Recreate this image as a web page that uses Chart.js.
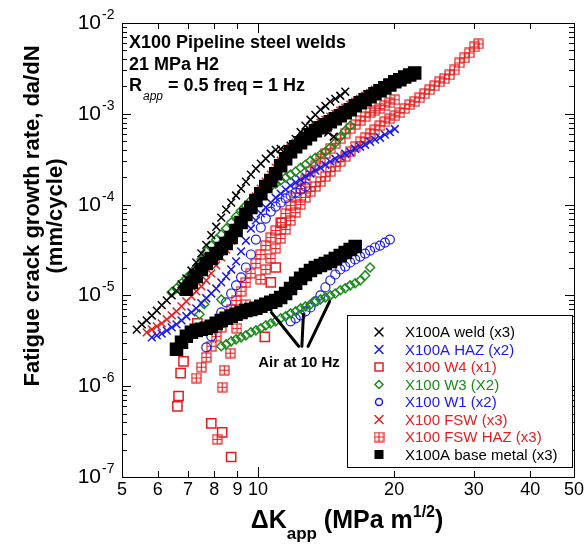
<!DOCTYPE html>
<html>
<head>
<meta charset="utf-8">
<script src="https://cdn.jsdelivr.net/npm/chart.js@4.4.0/dist/chart.umd.min.js"></script>
<style>
  html, body { margin: 0; padding: 0; background: #fff; }
  #wrap { width: 587px; height: 556px; position: relative; }
</style>
</head>
<body>
<div id="wrap"><canvas id="chart"></canvas></div>
<script>
// dK (MPa m^1/2) and da/dN (mm/cycle)

// X100A weld (x3), H2
const weldDK = [5.39,5.53,5.67,5.82,5.97,6.12,6.28,6.44,6.60,6.77,6.94,7.12,7.30,7.49,7.68,7.88,8.08,8.29,8.50,8.72,8.94,9.17,9.40,9.64,9.89,10.14,10.40,10.67,10.94,11.22,11.51,11.80,12.11,12.42,12.73,13.06,13.39,13.74,14.09,14.45,14.82,15.20,15.59,14.3,14.7];
const weldRate = [4.2e-6,4.8e-6,5.3e-6,6.0e-6,6.8e-6,7.8e-6,8.8e-6,1.0e-5,1.13e-5,1.32e-5,1.54e-5,1.88e-5,2.31e-5,2.9e-5,3.6e-5,4.6e-5,5.7e-5,7.2e-5,8.8e-5,1.05e-4,1.26e-4,1.5e-4,1.79e-4,2.14e-4,2.49e-4,2.82e-4,3.2e-4,3.63e-4,4.0e-4,4.1e-4,3.9e-4,4.45e-4,5.3e-4,6.3e-4,7.4e-4,8.6e-4,9.75e-4,1.11e-3,1.22e-3,1.36e-3,1.46e-3,1.58e-3,1.75e-3,6.2e-4,5.6e-4];

// X100A HAZ (x2)
const hazDK = [5.82,5.97,6.12,6.28,6.44,6.60,6.77,6.94,7.12,7.30,7.49,7.68,7.88,8.08,8.29,8.50,8.72,8.94,9.17,9.40,9.64,9.89,10.14,10.40,10.67,10.94,11.22,11.51,11.80,12.11,12.42,12.73,13.06,13.39,13.74,14.09,14.45,14.82,15.20,15.59,15.99,16.40,16.82,17.25,17.69,18.14,18.61,19.08,19.57,20.07];
const hazRate = [3.45e-6,3.63e-6,3.8e-6,4.1e-6,4.45e-6,4.8e-6,5.3e-6,5.9e-6,6.5e-6,7.2e-6,8.2e-6,9.3e-6,1.05e-5,1.19e-5,1.39e-5,1.62e-5,1.93e-5,2.37e-5,3.05e-5,4.0e-5,5.45e-5,6.7e-5,8.0e-5,9.3e-5,1.05e-4,1.19e-4,1.32e-4,1.46e-4,1.62e-4,1.75e-4,1.88e-4,2.03e-4,2.19e-4,2.37e-4,2.55e-4,2.75e-4,2.97e-4,3.2e-4,3.37e-4,3.63e-4,3.8e-4,4.12e-4,4.34e-4,4.56e-4,4.92e-4,5.2e-4,5.45e-4,5.9e-4,6.3e-4,6.8e-4];

// X100 W4 (x1)
const w4DK = [6.63,6.67,6.74,6.84,7.34,7.88,8.33,8.72,10.35,10.67,10.94,11.28];
const w4Rate = [6.0e-7,7.8e-7,1.39e-6,1.88e-6,4.92e-6,3.9e-7,3.1e-7,1.66e-7,3.5e-6,1.39e-5,2.03e-5,6.3e-5];

// X100 W3 (x2), H2 then air
const w3DK = [6.44,6.60,6.77,6.94,7.12,7.30,7.49,7.68,7.88,8.08,8.29,8.50,8.72,8.94,9.17,9.40,9.64,9.89,10.14,10.40,10.67,10.94,11.22,11.51,11.80,12.11,12.42,12.73,13.06,13.39,13.74,14.09,14.45,14.82,15.20,15.59,15.99,7.42,7.60,8.29];
const w3Rate = [1.08e-5,1.20e-5,1.36e-5,1.54e-5,1.75e-5,2.03e-5,2.49e-5,3.04e-5,3.54e-5,4.12e-5,4.68e-5,5.45e-5,6.34e-5,7.38e-5,8.59e-5,9.75e-5,1.11e-4,1.23e-4,1.36e-4,1.46e-4,1.58e-4,1.70e-4,1.84e-4,1.98e-4,2.14e-4,2.31e-4,2.55e-4,2.75e-4,3.04e-4,3.28e-4,3.54e-4,3.82e-4,4.23e-4,4.80e-4,5.59e-4,6.50e-4,7.38e-4,6.2e-6,8.0e-6,9.0e-6];
const w3AirDK = [8.29,8.50,8.72,8.94,9.17,9.40,9.64,9.89,10.14,10.40,10.67,10.94,11.22,11.51,11.80,12.11,12.42,12.73,13.06,13.39,13.74,14.09,14.45,14.82,15.20,15.59,15.99,16.40,16.82,17.25,17.69];
const w3AirRate = [2.75e-6,2.89e-6,3.12e-6,3.28e-6,3.45e-6,3.63e-6,3.92e-6,4.12e-6,4.34e-6,4.68e-6,4.92e-6,5.18e-6,5.59e-6,5.88e-6,6.34e-6,6.67e-6,7.20e-6,7.57e-6,7.97e-6,8.59e-6,9.04e-6,9.51e-6,1.0e-5,1.05e-5,1.14e-5,1.20e-5,1.29e-5,1.36e-5,1.46e-5,1.66e-5,2.03e-5];

// X100 W1 (x2), H2 then air
const w1DK = [7.68,7.88,8.08,8.29,8.50,8.72,8.94,9.17,9.40,9.64,9.89,10.14,10.40,10.67,10.94,11.22,11.51,11.80,12.11,12.42,12.73];
const w1Rate = [2.68e-6,3.54e-6,4.80e-6,6.50e-6,8.38e-6,1.05e-5,1.29e-5,1.58e-5,2.03e-5,2.82e-5,4.12e-5,5.59e-5,7.02e-5,8.38e-5,9.51e-5,1.05e-4,1.17e-4,1.26e-4,1.36e-4,1.46e-4,1.58e-4];
const w1AirDK = [11.80,12.11,12.42,12.73,13.06,13.39,13.74,14.09,14.45,14.82,15.20,15.59,15.99,16.40,16.82,17.25,17.69,18.14,18.61,19.08,19.57];
const w1AirRate = [5.18e-6,5.59e-6,6.03e-6,6.67e-6,7.38e-6,8.59e-6,1.0e-5,1.23e-5,1.46e-5,1.70e-5,1.93e-5,2.08e-5,2.31e-5,2.49e-5,2.68e-5,2.89e-5,3.12e-5,3.37e-5,3.54e-5,3.82e-5,4.12e-5];

// X100 FSW (x3)
const fswDK = [5.67,5.82,5.97,6.12,6.28,6.44,6.60,6.77,6.94,7.12,7.30,7.49,7.68,7.88,8.08,8.29,8.50,8.72,8.94,9.17,9.40,9.64,9.89,10.14,10.40,10.67,10.94,11.22,11.51,11.80,12.11,12.42,12.73,13.06,13.39,13.74,14.09,14.45,14.82,15.20,15.59,15.99,16.40,16.82,17.25,17.69,18.14,18.61,19.08];
const fswRate = [3.92e-6,4.23e-6,4.56e-6,4.92e-6,5.45e-6,6.03e-6,6.67e-6,7.57e-6,8.59e-6,9.75e-6,1.11e-5,1.26e-5,1.46e-5,1.75e-5,2.14e-5,2.62e-5,3.20e-5,4.02e-5,5.05e-5,6.34e-5,7.97e-5,1.0e-4,1.23e-4,1.50e-4,1.79e-4,2.14e-4,2.55e-4,3.04e-4,3.63e-4,4.23e-4,4.80e-4,5.31e-4,5.88e-4,6.50e-4,7.20e-4,7.97e-4,8.59e-4,9.27e-4,1.0e-3,1.08e-3,1.17e-3,1.26e-3,1.36e-3,1.46e-3,1.58e-3,1.70e-3,1.84e-3,1.93e-3,2.03e-3];

// X100 FSW HAZ (x3): loose points, specimen B, specimen C
const fswHazLooseDK = [8.12,8.33,8.42,8.68,8.98,9.40];
const fswHazLooseRate = [2.6e-7,9.75e-7,1.50e-6,2.31e-6,4.34e-6,7.97e-6];
const fswHazBDK = [7.30,7.49,7.68,7.88,8.08,8.29,8.50,8.72,8.94,9.17,9.40,9.64,9.89,10.14,10.40,10.67,10.94,11.22,11.51,11.80,12.11,12.42,12.73,13.06,13.39,13.74,14.09,14.45,14.82,15.20,15.59,15.99,16.40,16.82,17.25,17.69,18.14,18.61,19.08,19.57,20.07];
const fswHazBRate = [1.23e-6,1.62e-6,2.08e-6,2.75e-6,3.54e-6,4.45e-6,5.59e-6,7.02e-6,8.81e-6,1.11e-5,1.39e-5,1.75e-5,2.25e-5,2.82e-5,3.54e-5,4.34e-5,5.18e-5,6.34e-5,7.97e-5,9.75e-5,1.20e-4,1.50e-4,1.88e-4,2.31e-4,2.68e-4,3.20e-4,3.63e-4,4.12e-4,4.68e-4,5.31e-4,6.03e-4,6.84e-4,7.57e-4,8.38e-4,9.27e-4,1.03e-3,1.08e-3,1.14e-3,1.23e-3,1.32e-3,1.43e-3];
const fswHazCDK = [10.14,10.40,10.67,10.94,11.22,11.51,11.80,12.11,12.42,12.73,13.06,13.39,13.74,14.09,14.45,14.82,15.20,15.59,15.99,16.40,16.82,17.25,17.69,18.14,18.61,19.08,19.57,20.07,20.59,21.11,21.65,22.21,22.78,23.36,23.96,24.57,25.20,25.85,26.51,27.19,27.88,28.60,29.33,30.08,30.7];
const fswHazCRate = [1.50e-5,1.93e-5,2.55e-5,3.28e-5,4.23e-5,5.31e-5,6.67e-5,8.17e-5,1.0e-4,1.20e-4,1.39e-4,1.58e-4,1.79e-4,2.03e-4,2.31e-4,2.62e-4,2.97e-4,3.37e-4,3.82e-4,4.34e-4,4.92e-4,5.45e-4,6.03e-4,6.67e-4,7.38e-4,8.17e-4,8.81e-4,9.51e-4,1.03e-3,1.14e-3,1.26e-3,1.36e-3,1.50e-3,1.66e-3,1.84e-3,2.03e-3,2.25e-3,2.43e-3,2.68e-3,3.04e-3,3.63e-3,4.12e-3,4.68e-3,5.45e-3,5.88e-3];

// X100A base metal (x3), H2 then air
const baseDK = [6.94,7.12,7.30,7.49,7.68,7.88,8.08,8.29,8.50,8.72,8.94,9.17,9.40,9.64,9.89,10.14,10.40,10.67,10.94,11.22,11.51,11.80,12.11,12.42,12.73,13.06,13.39,13.74,14.09,14.45,14.82,15.20,15.59,15.99,16.40,16.82,17.25,17.69,18.14,18.61,19.08,19.57,20.07,20.59,21.11,21.65,22.21];
const baseRate = [1.17e-5,1.39e-5,1.62e-5,1.93e-5,2.25e-5,2.55e-5,2.89e-5,3.28e-5,3.73e-5,4.34e-5,5.18e-5,6.34e-5,7.76e-5,9.27e-5,1.11e-4,1.32e-4,1.58e-4,1.84e-4,2.19e-4,2.68e-4,3.20e-4,3.82e-4,4.34e-4,4.80e-4,5.31e-4,5.88e-4,6.50e-4,7.02e-4,7.57e-4,8.17e-4,8.81e-4,9.51e-4,1.03e-3,1.11e-3,1.23e-3,1.32e-3,1.43e-3,1.54e-3,1.66e-3,1.79e-3,1.93e-3,2.08e-3,2.25e-3,2.37e-3,2.55e-3,2.68e-3,2.82e-3];
const baseAirDK = [6.60,6.77,6.94,7.12,7.30,7.49,7.68,7.88,8.08,8.29,8.50,8.72,8.94,9.17,9.40,9.64,9.89,10.14,10.40,10.67,10.94,11.22,11.51,11.80,12.11,12.42,12.73,13.06,13.39,13.74,14.09,14.45,14.82,15.20,15.59,15.99,16.40];
const baseAirRate = [2.55e-6,3.05e-6,3.54e-6,3.92e-6,4.12e-6,4.23e-6,4.34e-6,4.56e-6,4.92e-6,5.3e-6,5.6e-6,5.9e-6,6.2e-6,6.5e-6,6.8e-6,7.0e-6,7.2e-6,7.6e-6,8.0e-6,8.4e-6,8.8e-6,9.5e-6,1.05e-5,1.19e-5,1.36e-5,1.54e-5,1.70e-5,1.88e-5,2.03e-5,2.14e-5,2.25e-5,2.37e-5,2.55e-5,2.75e-5,2.97e-5,3.2e-5,3.45e-5];

// "Air at 10 Hz" pointer lines (from -> to)
const airFromDK = [12.3, 12.5, 12.9];
const airFromRate = [2.75e-6, 2.75e-6, 2.75e-6];
const airToDK = [10.7, 12.6, 14.4];
const airToRate = [6.5e-6, 6.2e-6, 8.6e-6];

// axis ticks
const xTicks = [5, 6, 7, 8, 9, 10, 20, 30, 40, 50];
const yDecades = [-7, -6, -5, -4, -3, -2];

const RED = '#e41e1e';
const BLUE = '#1a1ae8';
const GREEN = '#1b8a1b';
const BLACK = '#000000';
const FONT = "'Liberation Sans', Arial, sans-serif";

const pts = (xs, ys) => xs.map((v, i) => ({ x: v, y: ys[i] }));

// square with a cross inside, for FSW HAZ
const hazMark = (() => {
  const c = document.createElement('canvas');
  c.width = 11; c.height = 11;
  const g = c.getContext('2d');
  g.strokeStyle = RED;
  g.lineWidth = 1.2;
  g.strokeRect(1, 1, 9, 9);
  g.beginPath();
  g.moveTo(5.5, 1); g.lineTo(5.5, 10);
  g.moveTo(1, 5.5); g.lineTo(10, 5.5);
  g.stroke();
  return c;
})();

const legendItems = [
  { text: 'X100A weld (x3)', color: BLACK, mark: 'x' },
  { text: 'X100A HAZ (x2)', color: BLUE, mark: 'x' },
  { text: 'X100 W4 (x1)', color: RED, mark: 'square' },
  { text: 'X100 W3 (X2)', color: GREEN, mark: 'diamond' },
  { text: 'X100 W1 (x2)', color: BLUE, mark: 'circle' },
  { text: 'X100 FSW (x3)', color: RED, mark: 'x' },
  { text: 'X100 FSW HAZ (x3)', color: RED, mark: 'haz' },
  { text: 'X100A base metal (x3)', color: BLACK, mark: 'filled' }
];

function drawMark(ctx, mark, x, y, color) {
  ctx.save();
  ctx.strokeStyle = color;
  ctx.fillStyle = color;
  ctx.lineWidth = 1.5;
  ctx.beginPath();
  if (mark === 'x') {
    ctx.moveTo(x - 4, y - 4); ctx.lineTo(x + 4, y + 4);
    ctx.moveTo(x + 4, y - 4); ctx.lineTo(x - 4, y + 4);
    ctx.stroke();
  } else if (mark === 'square') {
    ctx.strokeRect(x - 4, y - 4, 8, 8);
  } else if (mark === 'diamond') {
    ctx.moveTo(x, y - 4); ctx.lineTo(x + 4, y); ctx.lineTo(x, y + 4); ctx.lineTo(x - 4, y);
    ctx.closePath(); ctx.stroke();
  } else if (mark === 'circle') {
    ctx.arc(x, y, 3.5, 0, Math.PI * 2); ctx.stroke();
  } else if (mark === 'haz') {
    ctx.drawImage(hazMark, x - 5.5, y - 5.5);
  } else {
    ctx.fillRect(x - 4.5, y - 4.5, 9, 9);
  }
  ctx.restore();
}

const decorations = {
  id: 'decorations',
  afterDraw(chart) {
    const { ctx, chartArea: a } = chart;
    const sx = chart.scales.x, sy = chart.scales.y;
    ctx.save();

    // frame and inward ticks
    ctx.strokeStyle = '#000';
    ctx.lineWidth = 1;
    ctx.strokeRect(a.left + 0.5, a.top + 0.5, a.right - a.left, a.bottom - a.top);
    const seg = (x1, y1, x2, y2) => { ctx.beginPath(); ctx.moveTo(x1, y1); ctx.lineTo(x2, y2); ctx.stroke(); };
    yDecades.forEach(k => {
      for (let m = 1; m < 10; m++) {
        if (k === -2 && m > 1) break;
        const py = Math.round(sy.getPixelForValue(m * Math.pow(10, k))) + 0.5;
        const len = m === 1 ? 9 : 5;
        seg(a.left, py, a.left + len, py);
        seg(a.right, py, a.right - len, py);
      }
    });
    xTicks.forEach(v => {
      const px = Math.round(sx.getPixelForValue(v)) + 0.5;
      const len = v === 10 ? 10 : 6;
      seg(px, a.bottom, px, a.bottom - len);
      seg(px, a.top, px, a.top + len);
    });

    // tick labels
    ctx.fillStyle = '#000';
    ctx.textBaseline = 'alphabetic';
    ctx.font = '18px ' + FONT;
    ctx.textAlign = 'center';
    xTicks.forEach(v => ctx.fillText(String(v), sx.getPixelForValue(v), 495));
    yDecades.forEach(k => {
      const py = sy.getPixelForValue(Math.pow(10, k));
      ctx.font = '21px ' + FONT;
      ctx.textAlign = 'right';
      ctx.fillText('10', 101, py + 6);
      ctx.font = '14px ' + FONT;
      ctx.textAlign = 'left';
      ctx.fillText(String(k), 102, py - 4);
    });

    // y title
    ctx.font = 'bold 22px ' + FONT;
    ctx.textAlign = 'center';
    ctx.save();
    ctx.translate(39, 216);
    ctx.rotate(-Math.PI / 2);
    ctx.fillText('Fatigue crack growth rate, da/dN', 0, 0);
    ctx.restore();
    ctx.save();
    ctx.translate(62, 216);
    ctx.rotate(-Math.PI / 2);
    ctx.fillText('(mm/cycle)', 0, 0);
    ctx.restore();

    // x title with sub/superscript
    const parts = [
      ['\u0394K', 'bold 25px ', 0],
      ['app', 'bold 17px ', 11],
      [' (MPa m', 'bold 25px ', 0],
      ['1/2', 'bold 16px ', -11],
      [')', 'bold 25px ', 0]
    ];
    let total = 0;
    parts.forEach(p => { ctx.font = p[1] + FONT; total += ctx.measureText(p[0]).width; });
    let cx = 347 - total / 2;
    ctx.textAlign = 'left';
    parts.forEach(p => {
      ctx.font = p[1] + FONT;
      ctx.fillText(p[0], cx, 528 + p[2]);
      cx += ctx.measureText(p[0]).width;
    });

    // conditions text
    ctx.font = 'bold 18px ' + FONT;
    ctx.fillText('X100 Pipeline steel welds', 129, 48);
    ctx.fillText('21 MPa H2', 129, 70);
    ctx.fillText('R', 129, 91);
    let rx = 129 + ctx.measureText('R').width + 1;
    ctx.font = 'italic 12px ' + FONT;
    ctx.fillText('app', rx, 100);
    rx += ctx.measureText('app').width;
    ctx.font = 'bold 18px ' + FONT;
    ctx.fillText(' = 0.5 freq = 1 Hz', rx, 91);

    // air annotation
    ctx.lineWidth = 3;
    ctx.lineCap = 'round';
    airFromDK.forEach((v, i) => {
      seg(sx.getPixelForValue(v), sy.getPixelForValue(airFromRate[i]),
          sx.getPixelForValue(airToDK[i]), sy.getPixelForValue(airToRate[i]));
    });
    ctx.font = 'bold 15px ' + FONT;
    ctx.textAlign = 'center';
    ctx.fillText('Air at 10 Hz', 299, 367);

    // legend box
    ctx.lineWidth = 1;
    ctx.fillStyle = '#fff';
    ctx.fillRect(347, 315, 225, 152);
    ctx.strokeStyle = '#000';
    ctx.strokeRect(347.5, 315.5, 225, 152);
    ctx.font = '15px ' + FONT;
    ctx.textAlign = 'left';
    ctx.textBaseline = 'middle';
    legendItems.forEach((it, i) => {
      const ly = 332 + i * 17.5;
      drawMark(ctx, it.mark, 379, ly, it.color);
      ctx.fillStyle = it.color;
      ctx.fillText(it.text, 405, ly + 1);
    });

    ctx.restore();
  }
};

const ds = (label, data, style, color, extra) => Object.assign({
  label: label,
  data: data,
  pointStyle: style,
  borderColor: color,
  backgroundColor: 'rgba(0,0,0,0)',
  borderWidth: 1.5,
  pointRadius: 5
}, extra);

new Chart(document.getElementById('chart'), {
  type: 'scatter',
  data: {
    datasets: [
      ds('X100A weld (x3)', pts(weldDK, weldRate), 'crossRot', BLACK, { pointRadius: 5.5, order: 0 }),
      ds('X100A base metal (x3)', pts(baseDK, baseRate).concat(pts(baseAirDK, baseAirRate)), 'rect', BLACK,
        { backgroundColor: BLACK, pointRadius: 8.5, borderWidth: 1.5, order: 1 }),
      ds('X100 FSW (x3)', pts(fswDK, fswRate), 'crossRot', RED, { pointRadius: 5.5, order: 2 }),
      ds('X100A HAZ (x2)', pts(hazDK, hazRate), 'crossRot', BLUE, { pointRadius: 5.5, order: 3 }),
      ds('X100 W3 (X2)', pts(w3DK, w3Rate).concat(pts(w3AirDK, w3AirRate)), 'rectRot', GREEN,
        { pointRadius: 4.5, order: 4 }),
      ds('X100 W1 (x2)', pts(w1DK, w1Rate).concat(pts(w1AirDK, w1AirRate)), 'circle', BLUE,
        { pointRadius: 4.5, borderWidth: 1.2, order: 5 }),
      ds('X100 FSW HAZ (x3)', pts(fswHazLooseDK, fswHazLooseRate).concat(pts(fswHazBDK, fswHazBRate), pts(fswHazCDK, fswHazCRate)),
        hazMark, RED, { order: 6 }),
      ds('X100 W4 (x1)', pts(w4DK, w4Rate), 'rect', RED, { pointRadius: 6.5, order: 7 })
    ]
  },
  options: {
    responsive: true,
    maintainAspectRatio: false,
    animation: false,
    layout: { padding: { left: 122, right: 13, top: 23, bottom: 79 } },
    scales: {
      x: { type: 'logarithmic', min: 5, max: 50, display: false },
      y: { type: 'logarithmic', min: 1e-7, max: 1e-2, display: false }
    },
    plugins: {
      legend: { display: false },
      tooltip: { enabled: false }
    }
  },
  plugins: [decorations]
});
</script>
</body>
</html>
